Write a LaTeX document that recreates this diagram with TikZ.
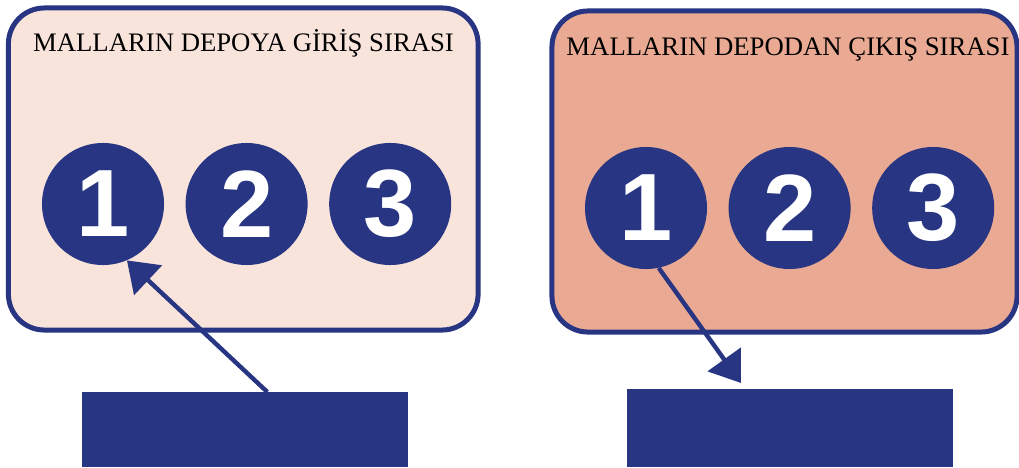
\documentclass[tikz,border=0pt]{standalone}
\usepackage{fontspec}
\setmainfont{Liberation Serif}
\newfontfamily\digitfont{Liberation Sans}
\usepackage{xcolor}
\definecolor{cMain}{HTML}{283583}
\definecolor{cIn}{HTML}{F9E4DC}
\definecolor{cOut}{HTML}{EAA992}
\usepackage{tikz}
\usetikzlibrary{positioning,arrows.meta}
\tikzset{
  depo-box/.style={draw=cMain,line width=0.125cm,rounded corners=0.9cm,
    minimum width=11.74cm,minimum height=8.05cm},
  depo-title/.style={font=\fontsize{19}{19}\selectfont,text=black,inner sep=0pt},
  num-disc/.style={circle,fill=cMain,minimum size=3.05cm,inner sep=0pt,
    text=white,font=\digitfont\bfseries\fontsize{68}{68}\selectfont},
  bar-box/.style={fill=cMain,minimum width=8.15cm,inner sep=0pt},
  arrow/.style={-{Triangle[length=0.725cm,width=1cm]},line width=0.11cm,draw=cMain},
}

\begin{document}
\begin{tikzpicture}[x=0.025cm,y=-0.025cm,node distance=0.525cm]
  \useasboundingbox (0,0) rectangle (1019,467);
  \node[depo-box,fill=cIn] (inbox) at (243.25,169) {};
  \node[depo-box,fill=cOut,minimum width=11.625cm,minimum height=8.025cm] (outbox) at (784.5,171.5) {};
  \node[depo-title,anchor=base] (intitle) at (243.5,51) {MALLARIN DEPOYA GİRİŞ SIRASI};
  \node[depo-title,anchor=base] (outtitle) at (788,55) {MALLARIN DEPODAN ÇIKIŞ SIRASI};

  \node[num-disc] (in1) at (103,204) {1};
  \node[num-disc,right=of in1] (in2) {2};
  \node[num-disc,right=of in2] (in3) {3};
  \node[num-disc] (out1) at (646,208) {1};
  \node[num-disc,right=of out1] (out2) {2};
  \node[num-disc,right=of out2] (out3) {3};

  \node[bar-box,minimum height=1.875cm,anchor=north west] (inbar) at (82,392) {};
  \node[bar-box,minimum height=1.95cm,anchor=north west] (outbar) at (627,389) {};
  \coordinate (outtip) at (741,383);

  \draw[arrow] ([xshift=0.55cm]inbar.north) -- (in1.-67);
  \draw[arrow] (out1.-78) -- (outtip);
\end{tikzpicture}
\end{document}
